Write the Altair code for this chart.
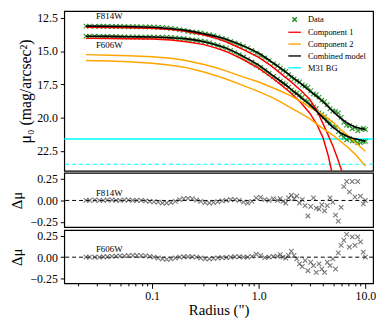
import altair as alt
import pandas as pd

# ---------------- data ----------------
R_DATA = [0.024, 0.026, 0.029, 0.032, 0.035, 0.038, 0.042, 0.046, 0.050, 0.055,
          0.060, 0.066, 0.072, 0.079, 0.087, 0.095, 0.104, 0.114, 0.125, 0.137,
          0.150, 0.165, 0.181, 0.198, 0.217, 0.238, 0.261, 0.286, 0.314, 0.344,
          0.377, 0.413, 0.453, 0.497, 0.545, 0.597, 0.655, 0.718, 0.787, 0.863,
          0.946, 1.04, 1.14, 1.25, 1.37,
          1.50, 1.59, 1.69, 1.79, 1.90, 2.02, 2.14, 2.27, 2.41, 2.56, 2.72, 2.89,
          3.07, 3.26, 3.46, 3.67, 3.90, 4.14, 4.39, 4.66, 4.95, 5.25, 5.57, 5.92,
          6.28, 6.67, 7.08, 7.52, 7.98, 8.47, 8.99, 9.55, 10.0]

MU_F814W = [13.13, 13.13, 13.15, 13.14, 13.14, 13.15, 13.16, 13.15, 13.16, 13.17,
            13.18, 13.17, 13.18, 13.19, 13.19, 13.19, 13.21, 13.22, 13.24, 13.26,
            13.30, 13.34, 13.40, 13.45, 13.52, 13.57, 13.61, 13.65, 13.71, 13.77,
            13.85, 13.95, 14.05, 14.14, 14.28, 14.40, 14.51, 14.63, 14.78, 14.96,
            15.17, 15.35, 15.52, 15.72, 15.96,
            16.11, 16.31, 16.45, 16.54, 16.77, 16.97, 17.10, 17.24, 17.33, 17.54,
            17.62, 17.73, 17.98, 18.22, 18.28, 18.46, 18.69, 18.80, 19.03, 19.33,
            19.50, 19.53, 19.64, 19.98, 20.35, 20.57, 20.60, 20.83, 20.74, 20.98,
            20.86, 20.82, 20.89]

MU_F606W = [13.89, 13.89, 13.89, 13.90, 13.91, 13.91, 13.92, 13.92, 13.94, 13.94,
            13.95, 13.95, 13.95, 13.96, 13.96, 13.95, 13.96, 13.96, 13.96, 13.97,
            13.99, 14.02, 14.05, 14.08, 14.13, 14.17, 14.21, 14.25, 14.30, 14.38,
            14.48, 14.58, 14.70, 14.80, 14.96, 15.12, 15.28, 15.45, 15.63, 15.84,
            16.06, 16.24, 16.46, 16.68, 16.91,
            17.11, 17.28, 17.42, 17.52, 17.72, 17.94, 18.09, 18.17, 18.31, 18.46,
            18.72, 18.78, 19.05, 19.19, 19.32, 19.64, 19.77, 19.93, 20.22, 20.40,
            20.69, 20.71, 21.05, 21.29, 21.46, 21.66, 21.57, 21.75, 21.73, 21.89,
            21.87, 21.80, 21.78]

RES_F814W = [0.0, 0.0, 0.005, 0.0, 0.0, 0.005, 0.005, 0.0, 0.0, 0.005,
             0.005, 0.0, 0.0, 0.0, -0.005, -0.01, -0.015, -0.02, -0.03, -0.03,
             -0.025, -0.01, 0.01, 0.02, 0.025, 0.02, 0.005, -0.01, -0.025, -0.03,
             -0.025, -0.015, -0.005, 0.0, 0.01, 0.01, 0.0, -0.02, -0.03, -0.01,
             0.03, 0.035, 0.01, 0.0, 0.02,
             0.00, 0.02, -0.01, -0.03, 0.03, 0.06, 0.02, 0.05, -0.03, 0.01, -0.06,
             -0.18, -0.07, 0.03, -0.09, -0.10, -0.05, -0.12, -0.06, 0.03, -0.02,
             -0.17, -0.24, -0.08, 0.16, 0.22, 0.10, 0.22, 0.04, 0.22, 0.05, -0.04, 0.00]

RES_F606W = [0.0, 0.0, 0.0, 0.0, 0.005, 0.005, 0.01, 0.012, 0.015, 0.015,
             0.018, 0.02, 0.02, 0.018, 0.015, 0.01, 0.0, -0.01, -0.02, -0.025,
             -0.02, -0.01, 0.0, 0.005, 0.005, 0.005, 0.0, -0.01, -0.02, -0.02,
             -0.015, -0.01, -0.005, -0.005, 0.0, 0.005, 0.005, 0.0, 0.0, 0.01,
             0.035, 0.02, -0.005, 0.0, 0.01,
             0.01, 0.03, 0.00, -0.01, 0.02, 0.07, 0.02, -0.02, -0.08, -0.11, -0.04,
             -0.16, -0.06, -0.10, -0.18, -0.08, -0.14, -0.18, -0.06, -0.10, -0.02,
             -0.14, 0.05, 0.14, 0.20, 0.27, 0.12, 0.24, 0.14, 0.24, 0.18, 0.06, 0.00]

R_MODEL = [0.024, 0.04, 0.06, 0.1, 0.15, 0.2, 0.3, 0.4, 0.5, 0.7, 1.0, 1.3, 1.6,
           2.0, 2.5, 3.0, 4.0, 5.0, 6.0, 7.0, 8.0, 10.0]
COMB_F814W = [13.13, 13.15, 13.17, 13.21, 13.32, 13.43, 13.69, 13.91, 14.13, 14.58,
              15.17, 15.77, 16.29, 16.88, 17.47, 17.99, 18.81, 19.55, 20.11, 20.48,
              20.70, 20.89]
COMB_F606W = [13.89, 13.90, 13.93, 13.95, 14.01, 14.07, 14.28, 14.54, 14.80, 15.36,
              16.06, 16.73, 17.25, 17.85, 18.51, 19.03, 20.00, 20.74, 21.19, 21.45,
              21.59, 21.78]
COMP2_F814W = [15.27, 15.31, 15.36, 15.43, 15.54, 15.69, 15.99, 16.25, 16.51, 16.92,
               17.33, 17.70, 18.00, 18.36, 18.80, 19.22, 19.78, 20.37, 20.96, 21.41,
               21.85, 22.52]
COMP2_F606W = [15.71, 15.75, 15.81, 15.91, 16.06, 16.21, 16.55, 16.85, 17.12, 17.56,
               18.05, 18.44, 18.81, 19.26, 19.70, 20.07, 20.82, 21.33, 21.85, 22.30,
               22.74, 23.63]

R_COMP1 = [0.024, 0.04, 0.06, 0.1, 0.15, 0.2, 0.3, 0.4, 0.5, 0.7, 1.0, 1.3, 1.6,
           2.0, 2.5, 3.0, 3.5, 4.0, 4.5, 5.0, 5.5, 6.0, 6.5]
COMP1_F814W = [13.22, 13.23, 13.25, 13.29, 13.38, 13.50, 13.78, 14.05, 14.32, 14.85,
               15.48, 16.10, 16.68, 17.30, 17.98, 18.62, 19.45, 20.45, 21.35, 22.20,
               23.10, 24.00, 25.20]
COMP1_F606W = [14.05, 14.06, 14.07, 14.10, 14.18, 14.28, 14.50, 14.78, 15.05, 15.60,
               16.30, 16.95, 17.50, 18.15, 18.90, 19.65, 20.50, 21.50, 22.90, 24.60,
               None, None, None]

BG_SOLID = [21.6]
BG_DASHED = [23.5]

BANDS = ["F814W", "F606W"]
SERIES = ["Data", "Component 1", "Component 2", "Combined model", "M31 BG"]
SERIES_COLORS = ["green", "red", "orange", "black", "cyan"]

MU_TICKS = [12.5, 15.0, 17.5, 20.0, 22.5]
RES_TICKS = [-0.25, 0.0, 0.25]
X_MAJOR = [0.1, 1, 10]
X_MINOR = [0.02, 0.03, 0.04, 0.05, 0.06, 0.07, 0.08, 0.09,
           0.2, 0.3, 0.4, 0.5, 0.6, 0.7, 0.8, 0.9,
           2, 3, 4, 5, 6, 7, 8, 9]

# annotation anchors (data coordinates)
LABEL_R = [0.0297, 0.0297]
TOP_LABEL_MU = [12.35, 14.54]
RES_LABEL_D = [0.09, 0.10]

# ---------------- styling ----------------
FONT = "Liberation Serif"
W = 313
H_TOP, H_R1, H_R2 = 162, 55, 54
XPATH = "M-0.35,-0.35L0.35,0.35M-0.35,0.35L0.35,-0.35"
SERIES_SHAPES = [XPATH, "stroke", "stroke", "stroke", "stroke"]


def band_frame(r, v1, v2, col):
    rows = []
    for band, vals in zip(BANDS, (v1, v2)):
        for ri, vi in zip(r, vals):
            if vi is not None:
                rows.append({"r": ri, col: vi, "band": band})
    return pd.DataFrame(rows)


df_data = band_frame(R_DATA, MU_F814W, MU_F606W, "mu")
df_data["series"] = "Data"
df_comb = band_frame(R_MODEL, COMB_F814W, COMB_F606W, "mu")
df_comb["series"] = "Combined model"
df_c2 = band_frame(R_MODEL, COMP2_F814W, COMP2_F606W, "mu")
df_c2["series"] = "Component 2"
df_c1 = band_frame(R_COMP1, COMP1_F814W, COMP1_F606W, "mu")
df_c1["series"] = "Component 1"
df_bg = pd.DataFrame({"mu": BG_SOLID, "series": ["M31 BG"]})
df_bg2 = pd.DataFrame({"mu": BG_DASHED})
df_top_lab = pd.DataFrame({"r": LABEL_R, "mu": TOP_LABEL_MU, "label": BANDS})

xscale = alt.Scale(type="log", domain=[0.015, 11.8], nice=False)
x_top = alt.X("r:Q", scale=xscale, axis=None)
is_major = "datum.value == 0.1 || datum.value == 1 || datum.value == 10"
x_bot = alt.X(
    "r:Q", scale=xscale, title='Radius (")',
    axis=alt.Axis(values=X_MAJOR + X_MINOR,
                  labelExpr=f"({is_major}) ? format(datum.value, '.1f') : ''",
                  tickSize={"condition": {"test": is_major, "value": 5}, "value": 2.5},
                  labelOverlap=False, labelFlush=False, labelPadding=2,
                  titlePadding=2, grid=False))

y_top = alt.Y("mu:Q", scale=alt.Scale(domain=[12, 24], reverse=True, nice=False, zero=False),
              axis=alt.Axis(values=MU_TICKS, format=".1f", title="μ₀ (mag/arcsec²)",
                            titlePadding=3, tickSize=4, labelPadding=3, titleFontSize=16,
                            labelFlush=False))

legend = alt.Legend(title=None, orient="none", legendX=226, legendY=1,
                    labelFont=FONT, labelFontSize=8.5, labelColor="black",
                    symbolSize=165, symbolStrokeWidth=1.5, rowPadding=0,
                    padding=0, labelOffset=6, symbolOpacity=0.9)
color_enc = alt.Color("series:N", scale=alt.Scale(domain=SERIES, range=SERIES_COLORS),
                      legend=legend)
shape_enc = alt.Shape("series:N", scale=alt.Scale(domain=SERIES, range=SERIES_SHAPES),
                      legend=legend)

bg_solid = alt.Chart(df_bg).mark_rule(strokeWidth=1.4).encode(y=y_top, color=color_enc)
bg_dash = alt.Chart(df_bg2).mark_rule(strokeWidth=1.2, strokeDash=[4, 3], color="cyan").encode(y=y_top)
pts = alt.Chart(df_data).mark_point(filled=False, size=175, strokeWidth=1.2, opacity=0.75).encode(
    x=x_top, y=y_top, color=color_enc, shape=shape_enc, detail="band:N")
c1 = alt.Chart(df_c1).mark_line(strokeWidth=1.5, clip=True).encode(
    x=x_top, y=y_top, color=color_enc, detail="band:N")
c2 = alt.Chart(df_c2).mark_line(strokeWidth=1.5, clip=True).encode(
    x=x_top, y=y_top, color=color_enc, detail="band:N")
comb = alt.Chart(df_comb).mark_line(strokeWidth=1.6, interpolate="monotone").encode(
    x=x_top, y=y_top, color=color_enc, detail="band:N")
top_lab = alt.Chart(df_top_lab).mark_text(align="left", baseline="middle", font=FONT,
                                          fontSize=9, color="black").encode(
    x=x_top, y=y_top, text="label:N")

top = alt.layer(bg_solid, bg_dash, pts, c1, c2, comb, top_lab).properties(width=W, height=H_TOP)


def residual_panel(res, band, lab_d, xenc, h):
    df = pd.DataFrame({"r": R_DATA, "d": res})
    yenc = alt.Y("d:Q", scale=alt.Scale(domain=[-0.31, 0.32], nice=False, zero=False),
                 axis=alt.Axis(values=RES_TICKS, format=".2f", title="Δμ", titlePadding=6,
                               tickSize=4, labelPadding=3, labelFlush=False,
                               labelOverlap=False))
    zero = alt.Chart(pd.DataFrame({"d": [0.0]})).mark_rule(
        color="black", strokeDash=[4, 3], strokeWidth=1).encode(y=yenc)
    p = alt.Chart(df).mark_point(shape=XPATH, filled=False, size=175, strokeWidth=1.1,
                                 color="#333333", opacity=0.65).encode(x=xenc, y=yenc)
    lab = alt.Chart(pd.DataFrame({"r": [LABEL_R[0]], "d": [lab_d], "label": [band]})).mark_text(
        align="left", baseline="middle", font=FONT, fontSize=9, color="black").encode(
        x=xenc, y=yenc, text="label:N")
    return alt.layer(zero, p, lab).properties(width=W, height=h)


res1 = residual_panel(RES_F814W, "F814W", RES_LABEL_D[0], x_top, H_R1)
res2 = residual_panel(RES_F606W, "F606W", RES_LABEL_D[1], x_bot, H_R2)

chart = alt.vconcat(top, res1, res2, spacing=0).properties(
    padding={"left": 0, "top": 0, "right": 2, "bottom": 0}
).configure_axis(
    labelFont=FONT, titleFont=FONT, labelFontSize=12, titleFontSize=15,
    labelColor="black", titleColor="black", tickColor="black", domain=False,
    grid=False, titleFontWeight="normal"
).configure_view(stroke="black", strokeWidth=1.2)

chart.save("out.html", embed_options={"renderer": "svg", "actions": False})
